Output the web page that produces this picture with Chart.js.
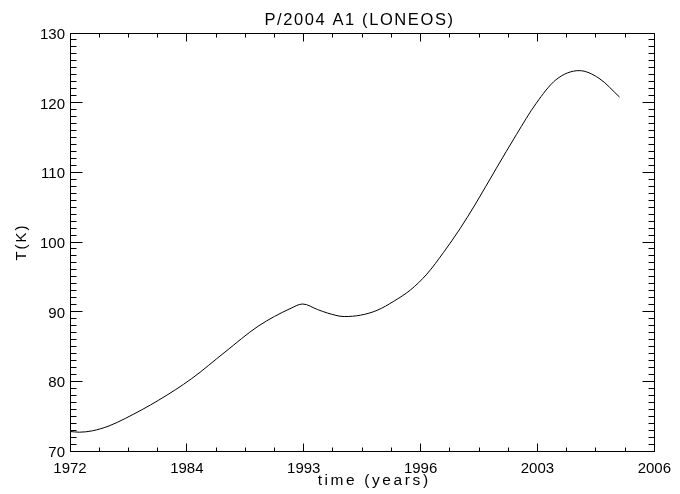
<!DOCTYPE html>
<html>
<head>
<meta charset="utf-8">
<title>P/2004 A1 (LONEOS)</title>
<script src="https://cdn.jsdelivr.net/npm/chart.js@4.4.1/dist/chart.umd.min.js"></script>
<style>
  html, body { margin: 0; padding: 0; background: #fff; }
</style>
</head>
<body>
<canvas id="tempChart" width="680" height="494"></canvas>
<script>
// etiquetas del eje de tiempo (ticks igualmente espaciados en la grafica)
const xTickLabels = ['1972', '1984', '1993', '1996', '2003', '2006'];
const yTicks = [70, 80, 90, 100, 110, 120, 130];

// curva: posicion sobre el eje (0 = tick 1972, 1 = tick 1984, ...)
const timePos = [0.000, 0.079, 0.192, 0.334, 0.476, 0.759, 1.042, 1.326, 1.609, 1.892, 1.991,
                 2.119, 2.204, 2.346, 2.487, 2.629, 2.771, 2.912, 3.054, 3.196, 3.337, 3.464,
                 3.649, 3.819, 3.989, 4.159, 4.357, 4.527, 4.703];
const tempK = [72.8, 72.7, 72.9, 73.6, 74.7, 77.3, 80.4, 84.2, 87.9, 90.5, 91.1,
               90.3, 89.8, 89.3, 89.5, 90.2, 91.5, 93.1, 95.4, 98.5, 101.9, 105.3,
               110.6, 115.4, 119.9, 123.3, 124.6, 123.5, 120.8];

const FONT = "'Liberation Sans', Arial, sans-serif";

// letra mas espaciada, parecida a la fuente Hershey de IDL
function withSpacing(fn, spacing, dx) {
  return function (...args) {
    const ctx = this.ctx;
    ctx.save();
    ctx.letterSpacing = spacing;
    ctx.translate(dx, 0);
    fn.apply(this, args);
    ctx.restore();
  };
}

const align = p => Math.round(p - 0.5) + 0.5;

// ticks hacia adentro en los cuatro lados + marco superior/derecho
const idlFrame = {
  id: 'idlFrame',
  beforeDraw(chart) {
    if (chart.$spaced) return;
    chart.$spaced = true;
    const { x, y } = chart.scales;
    chart.titleBlock.draw = withSpacing(chart.titleBlock.draw, '1.6px', 30);
    x.drawTitle = withSpacing(x.drawTitle, '2.6px', 12);
    y.drawTitle = withSpacing(y.drawTitle, '2px', 0);
  },
  afterDatasetsDraw(chart) {
    const { ctx, chartArea: a, scales: { x, y } } = chart;
    const L = align(a.left), R = align(a.right), T = align(a.top), B = align(a.bottom);
    ctx.save();
    ctx.strokeStyle = '#000';
    ctx.lineWidth = 1;
    ctx.beginPath();
    ctx.moveTo(L, T); ctx.lineTo(R, T); ctx.lineTo(R, B);
    for (let v = x.min; v <= x.max + 1e-9; v += 0.25) {
      const px = align(x.getPixelForValue(v));
      const len = Math.abs(v - Math.round(v)) < 1e-9 ? 8 : 4;
      ctx.moveTo(px, B); ctx.lineTo(px, B - len);
      ctx.moveTo(px, T); ctx.lineTo(px, T + len);
    }
    for (let v = y.min; v <= y.max; v += 1) {
      const py = align(y.getPixelForValue(v));
      const len = v % 10 === 0 ? 12 : 6;
      ctx.moveTo(L, py); ctx.lineTo(L + len, py);
      ctx.moveTo(R, py); ctx.lineTo(R - len, py);
    }
    ctx.stroke();
    ctx.restore();
  }
};

const points = timePos.map((t, i) => ({ x: t, y: tempK[i] }));

new Chart(document.getElementById('tempChart'), {
  type: 'line',
  data: {
    datasets: [{
      label: 'T(K)',
      data: points,
      borderColor: '#000',
      borderWidth: 1,
      pointRadius: 0,
      fill: false,
      cubicInterpolationMode: 'monotone'
    }]
  },
  options: {
    responsive: false,
    devicePixelRatio: 1,
    animation: false,
    layout: { padding: { left: 0, right: 21, top: 0, bottom: 0 } },
    plugins: {
      legend: { display: false },
      tooltip: { enabled: false },
      title: {
        display: true,
        text: 'P/2004 A1 (LONEOS)',
        color: '#000',
        font: { family: FONT, size: 16.5, weight: 'normal', lineHeight: 1.2 },
        padding: { top: 11, bottom: 2.2 }
      }
    },
    scales: {
      x: {
        type: 'linear',
        min: 0,
        max: 5,
        afterBuildTicks: s => { s.ticks = xTickLabels.map((_, i) => ({ value: i })); },
        afterFit: s => { s.height = 43; },
        grid: { display: false, drawTicks: false },
        border: { display: true, color: '#000', width: 1 },
        ticks: {
          color: '#000',
          font: { family: FONT, size: 15 },
          padding: 9,
          maxRotation: 0,
          autoSkip: false,
          callback: v => xTickLabels[v]
        },
        title: {
          display: true,
          text: 'time (years)',
          color: '#000',
          font: { family: FONT, size: 15.5, lineHeight: 1.2 },
          padding: { top: 0, bottom: 4 }
        }
      },
      y: {
        min: 70,
        max: 130,
        afterBuildTicks: s => { s.ticks = yTicks.map(v => ({ value: v })); },
        afterFit: s => { s.width = 70; },
        grid: { display: false, drawTicks: false },
        border: { display: true, color: '#000', width: 1 },
        ticks: {
          color: '#000',
          font: { family: FONT, size: 15 },
          padding: 5,
          labelOffset: 2
        },
        title: {
          display: true,
          text: 'T(K)',
          color: '#000',
          font: { family: FONT, size: 15, lineHeight: 1.2 },
          padding: { top: 13, bottom: 0 }
        }
      }
    }
  },
  plugins: [idlFrame]
});
</script>
</body>
</html>
